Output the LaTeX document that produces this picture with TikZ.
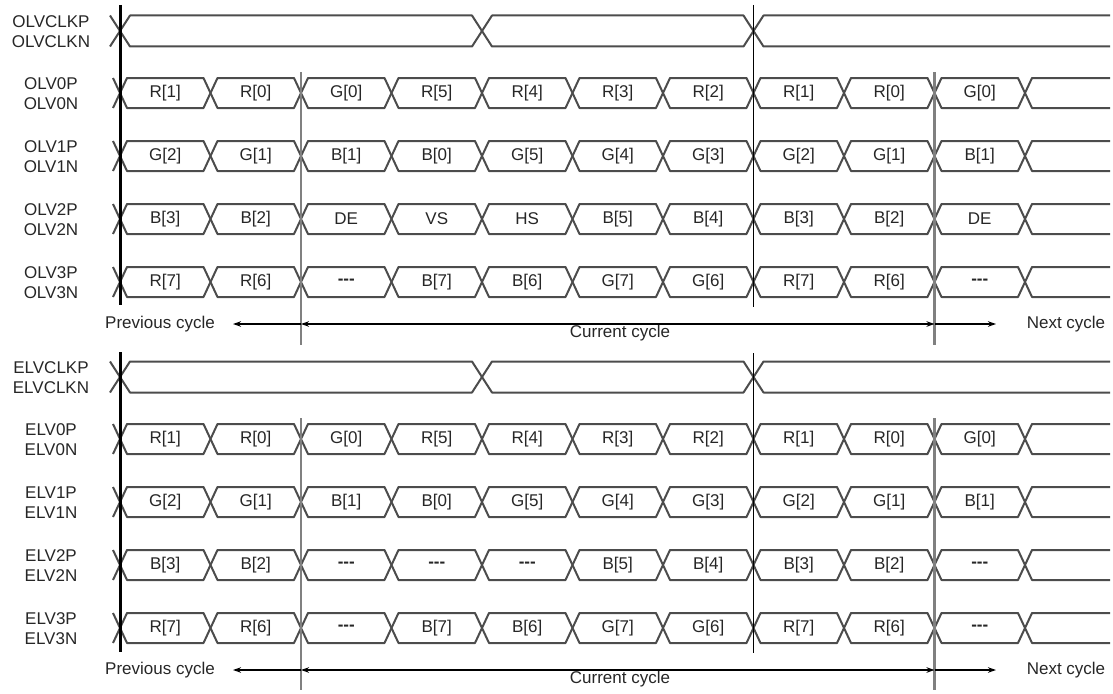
\documentclass[tikz,border=0pt]{standalone}
\usepackage{fontspec}
\setmainfont{Liberation Sans}
\usepackage{tikz}
\usetikzlibrary{arrows.meta}
\definecolor{wave}{gray}{0.3}
\definecolor{cycline}{gray}{0.5}
\definecolor{txt}{gray}{0.15}
\newcommand{\nodata}{\textbf{-{}-{}-}}

\begin{document}
\begin{tikzpicture}[x=1pt,y=-1pt,font=\fontsize{17}{20}\selectfont]
		\useasboundingbox (0,0) rectangle (1113,693);

		\begin{scope}[draw=wave,line width=2pt,line join=round]
		    \foreach \y in {31,377} {
		        \draw (110,\y-15.5) -- (130,\y+15.5) -- (472,\y+15.5) -- (492,\y-15.5) -- (743.5,\y-15.5) -- (763.5,\y+15.5) -- (1110,\y+15.5);
		        \draw (110,\y+15.5) -- (130,\y-15.5) -- (472,\y-15.5) -- (492,\y+15.5) -- (743.5,\y+15.5) -- (763.5,\y-15.5) -- (1110,\y-15.5);
		    }
		    \foreach \y in {93,156,219,282,439,502,565,628} {
		        \draw (113,\y-15) -- (120,\y) -- (113,\y+15);
		        \foreach \k in {0,...,9}
		            \draw ({120+90.5*\k},\y) -- ++(7,-15) -- ++(76.5,0) -- ++(7,15) -- ++(-7,15) -- ++(-76.5,0) -- cycle;
		        \draw (1110,\y-15) -- (1032,\y-15) -- (1025,\y) -- (1032,\y+15) -- (1110,\y+15);
		    }
		\end{scope}

		\begin{scope}[line width=2.2pt,draw=cycline]
		    \draw (301,72) -- (301,345);
		    \draw (934.5,72) -- (934.5,345);
		    \draw (301,418) -- (301,690);
		    \draw (934.5,418) -- (934.5,690);
		\end{scope}
		\begin{scope}[draw=black]
		    \draw[line width=3pt] (120,5) -- (120,305);
		    \draw[line width=3pt] (120,352) -- (120,652);
		    \draw[line width=1.6pt] (753.5,5) -- (753.5,307);
		    \draw[line width=1.6pt] (753.5,353) -- (753.5,653);
		\end{scope}

		\begin{scope}[every node/.style={align=center,text=txt,inner sep=0pt}]
		    \node (olvclk) at (51,32) {OLVCLKP\\OLVCLKN};
		    \node (olv0) at (51,94) {OLV0P\\OLV0N};
		    \node (olv1) at (51,157) {OLV1P\\OLV1N};
		    \node (olv2) at (51,220) {OLV2P\\OLV2N};
		    \node (olv3) at (51,283) {OLV3P\\OLV3N};
		    \node (elvclk) at (51,378) {ELVCLKP\\ELVCLKN};
		    \node (elv0) at (51,440) {ELV0P\\ELV0N};
		    \node (elv1) at (51,503) {ELV1P\\ELV1N};
		    \node (elv2) at (51,566) {ELV2P\\ELV2N};
		    \node (elv3) at (51,629) {ELV3P\\ELV3N};
		\end{scope}

		\begin{scope}[every node/.style={text=txt,inner sep=0pt}]
		    \foreach \lab [count=\i] in {R[1],R[0],G[0],R[5],R[4],R[3],R[2],R[1],R[0],G[0]} {
		        \node (olv0-\i) at ({74.75+90.5*\i},93) {\lab};
		        \node (elv0-\i) at ({74.75+90.5*\i},439) {\lab};
		    }
		    \foreach \lab [count=\i] in {G[2],G[1],B[1],B[0],G[5],G[4],G[3],G[2],G[1],B[1]} {
		        \node (olv1-\i) at ({74.75+90.5*\i},156) {\lab};
		        \node (elv1-\i) at ({74.75+90.5*\i},502) {\lab};
		    }
		    \foreach \lab [count=\i] in {B[3],B[2],DE,VS,HS,B[5],B[4],B[3],B[2],DE}
		        \node (olv2-\i) at ({74.75+90.5*\i},219) {\lab};
		    \foreach \lab [count=\i] in {B[3],B[2],\nodata,\nodata,\nodata,B[5],B[4],B[3],B[2],\nodata}
		        \node (elv2-\i) at ({74.75+90.5*\i},565) {\lab};
		    \foreach \lab [count=\i] in {R[7],R[6],\nodata,B[7],B[6],G[7],G[6],R[7],R[6],\nodata} {
		        \node (olv3-\i) at ({74.75+90.5*\i},282) {\lab};
		        \node (elv3-\i) at ({74.75+90.5*\i},628) {\lab};
		    }
		\end{scope}

		\begin{scope}[>={Stealth[length=8pt,width=5.5pt]},
		              every node/.style={text=txt,inner sep=0pt},
		              every edge/.style={draw=black,line width=1.3pt}]
		    \foreach \y/\s in {324/o,670/e} {
		        \node (prev-\s) at (160,\y) {Previous cycle};
		        \node (cur-\s) at (620,\y+9) {Current cycle};
		        \node (next-\s) at (1066,\y) {Next cycle};
		        \coordinate (gl-\s) at (301,\y);
		        \coordinate (gr-\s) at (934.5,\y);
		        \coordinate (pa-\s) at (233,\y);
		        \coordinate (na-\s) at (996,\y);
		        \path (gl-\s) edge[->] (pa-\s);
		        \path (gl-\s) edge[<->] (gr-\s);
		        \path (gr-\s) edge[->] (na-\s);
		    }
		\end{scope}
\end{tikzpicture}
\end{document}
